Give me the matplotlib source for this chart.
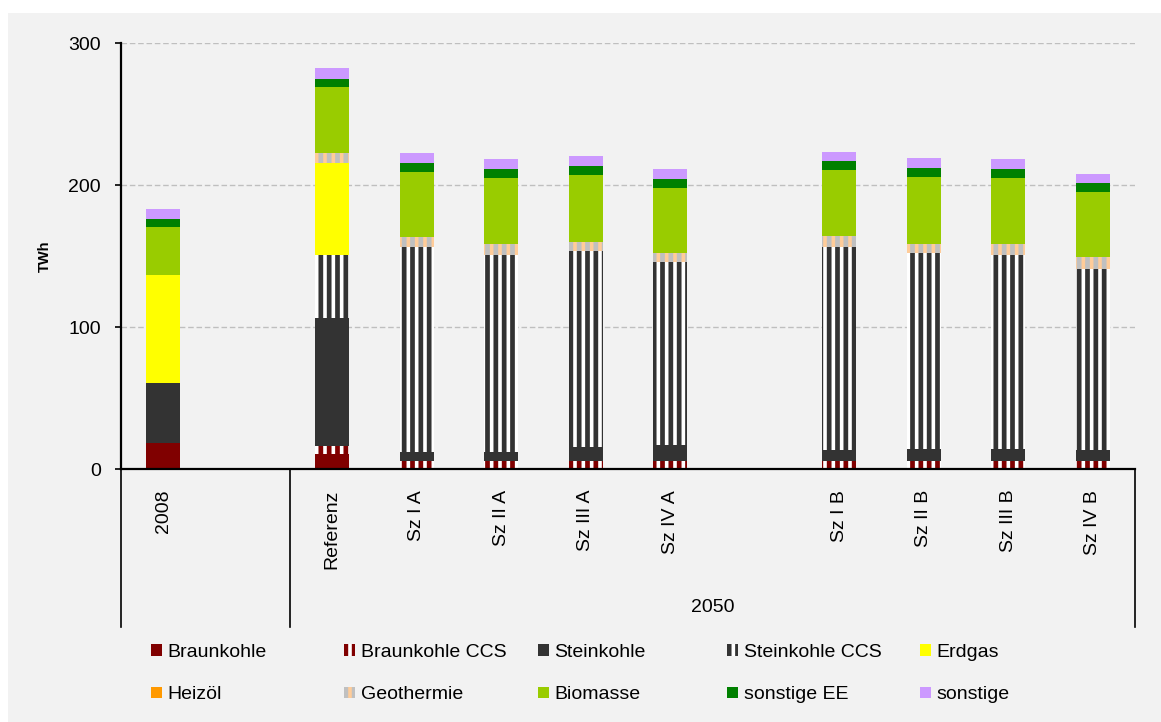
import numpy as np
import matplotlib
matplotlib.use("Agg")
import matplotlib.pyplot as plt
from matplotlib.patches import Patch, Rectangle

plt.rcParams["font.family"] = ["Liberation Sans", "DejaVu Sans"]
plt.rcParams["hatch.linewidth"] = 3.4

# categories ('' = empty slot between groups)
categories = ["2008", "", "Referenz", "Sz I A", "Sz II A", "Sz III A", "Sz IV A",
              "", "Sz I B", "Sz II B", "Sz III B", "Sz IV B"]

# TWh per energy carrier, one value per category slot
braunkohle     = [18.5, 0, 10.6, 0, 0, 0, 0, 0, 0, 0, 0, 0]
braunkohle_ccs = [0, 0, 5.8, 5.8, 5.8, 5.8, 5.8, 0, 5.8, 5.8, 5.8, 5.8]
steinkohle     = [41.8, 0, 89.7, 6.5, 6.5, 9.5, 10.9, 0, 7.6, 8.5, 8.5, 7.6]
steinkohle_ccs = [0, 0, 44.8, 144.3, 138.6, 137.9, 128.9, 0, 143.2, 138.0, 136.6, 127.7]
erdgas         = [76.5, 0, 64.6, 0, 0, 0, 0, 0, 0, 0, 0, 0]
heizoel        = [0, 0, 0, 0, 0, 0, 0, 0, 0, 0, 0, 0]
geothermie     = [0, 0, 6.8, 6.8, 7.8, 6.8, 6.6, 0, 7.8, 6.4, 7.8, 8.0]
biomasse       = [33.8, 0, 46.9, 45.8, 46.0, 47.2, 46.0, 0, 46.0, 47.1, 46.0, 46.0]
sonstige_ee    = [5.4, 0, 5.4, 6.4, 6.6, 6.4, 6.3, 0, 6.3, 6.4, 6.6, 6.3]
sonstige       = [6.9, 0, 7.8, 6.7, 6.8, 7.0, 6.8, 0, 6.5, 6.8, 6.8, 6.6]

# (label, values, facecolor, hatchcolor, hatch)
series = [
    ("Braunkohle", braunkohle, "#800000", None, None),
    ("Braunkohle CCS", braunkohle_ccs, "white", "#800000", "||"),
    ("Steinkohle", steinkohle, "#333333", None, None),
    ("Steinkohle CCS", steinkohle_ccs, "white", "#333333", "||"),
    ("Erdgas", erdgas, "#FFFF00", None, None),
    ("Heizöl", heizoel, "#FF9900", None, None),
    ("Geothermie", geothermie, "#FFCC99", "#C0C0C0", "||"),
    ("Biomasse", biomasse, "#99CC00", None, None),
    ("sonstige EE", sonstige_ee, "#008000", None, None),
    ("sonstige", sonstige, "#CC99FF", None, None),
]

W, H = 1161, 722
fig = plt.figure(figsize=(W / 100, H / 100), dpi=100, facecolor="white")
fig.patches.append(Rectangle((8 / W, 0), 1 - 8 / W, 1 - 13 / H, transform=fig.transFigure,
                             facecolor="#F2F2F2", edgecolor="none", zorder=-10))

ax_l, ax_r, ax_t, ax_b = 121, 1135, 43, 469
ax = fig.add_axes([ax_l / W, 1 - ax_b / H, (ax_r - ax_l) / W, (ax_b - ax_t) / H])
ax.set_facecolor("none")

x = np.arange(len(categories))
mask = np.array([c != "" for c in categories])
bottom = np.zeros(len(categories))
handles = []
for label, vals, face, hcol, hatch in series:
    vals = np.array(vals, dtype=float)
    # edgecolor only carries the stripe colour, the outline itself is not drawn
    ax.bar(x[mask], vals[mask], 0.4, bottom=bottom[mask], color=face,
           edgecolor=hcol if hcol else face, linewidth=0, hatch=hatch, zorder=3)
    bottom += vals
    handles.append(Patch(facecolor=face, edgecolor=hcol if hcol else face,
                         linewidth=0, hatch=hatch, label=label))

ax.set_xlim(-0.5, len(categories) - 0.5)
ax.set_ylim(0, 300)
ax.set_yticks([0, 100, 200, 300])
ax.yaxis.grid(True, color="#BFBFBF", linestyle=(0, (4, 2)), linewidth=1.0, zorder=0)
ax.set_axisbelow(True)

for s in ["top", "right"]:
    ax.spines[s].set_visible(False)
ax.spines["left"].set_linewidth(1.6)
ax.spines["bottom"].set_linewidth(1.6)
ax.spines["bottom"].set_zorder(4)

ax.tick_params(axis="y", length=4.5, width=1.2, pad=10, labelsize=14, direction="out")
ax.set_xticks(x)
ax.set_xticklabels(categories, rotation=90, fontsize=14)
ax.tick_params(axis="x", length=0, pad=15)

ax.set_ylabel("TWh", fontweight="bold", fontsize=10.5, va="center")
ax.yaxis.set_label_coords(-(ax_l - 45) / (ax_r - ax_l), 0.5)

# category group separators and group label
ah = ax_b - ax_t
y_end = -(627 - ax_b) / ah
xt = ax.get_xaxis_transform()
for xs in [-0.5, 1.5, len(categories) - 0.5]:
    ax.plot([xs, xs], [0, y_end], color="black", linewidth=1.2, transform=xt, clip_on=False)
ax.text(6.5, -(608 - ax_b) / ah, "2050", transform=xt, ha="center", va="center", fontsize=14)

# legend: 5 columns x 2 rows, laid out column by column
col_x = [151, 344, 538, 727, 920]
for i, cx in enumerate(col_x):
    leg = fig.legend(handles=[handles[i], handles[i + 5]], loc="upper left",
                     bbox_to_anchor=(cx / W, 1 - 644 / H), frameon=False, fontsize=14,
                     handlelength=0.55, handleheight=0.55, handletextpad=0.3,
                     labelspacing=1.3, borderaxespad=0, borderpad=0)

fig.savefig("out.png", dpi=100, facecolor=fig.get_facecolor())
